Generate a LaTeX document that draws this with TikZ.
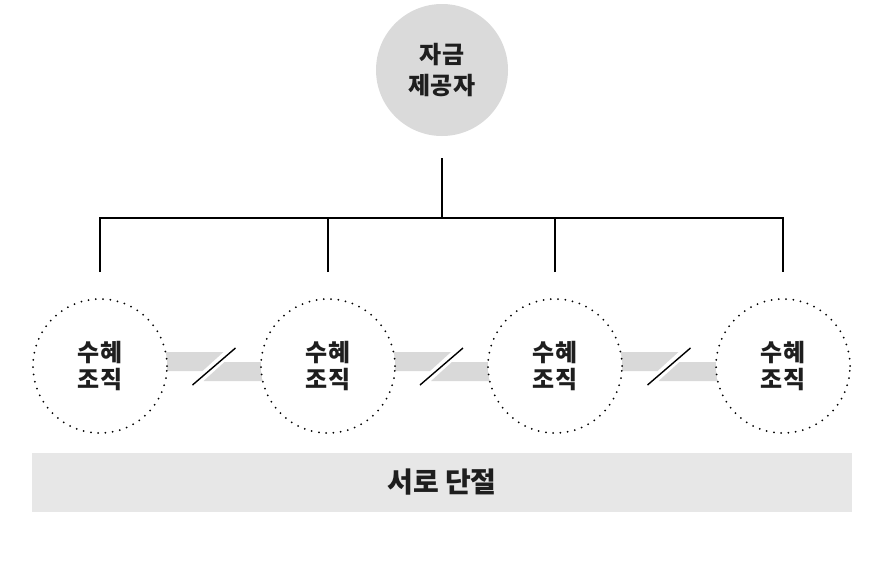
\documentclass[tikz,border=0pt]{standalone}
\usepackage{fontspec}
\setmainfont{Noto Sans CJK KR}
\definecolor{bandgray}{HTML}{D9D9D9}
\definecolor{topgray}{HTML}{DADADA}
\definecolor{bargray}{HTML}{E7E7E7}
\definecolor{ink}{HTML}{1E1E1E}
\begin{document}
\begin{tikzpicture}[x=1pt,y=-1pt,
  funder/.style={circle,fill=topgray,minimum size=132pt,inner sep=0pt,align=center,
    font=\fontsize{24}{31}\selectfont\bfseries,text=ink},
  org/.style={circle,fill=white,draw=black,line width=2pt,
    dash pattern=on 0pt off 7.3pt,line cap=round,minimum size=134pt,inner sep=0pt,
    align=center,font=\fontsize{24}{27}\selectfont\bfseries,text=ink},
  tree/.style={line width=1.3pt,draw=black},
  piece/.style={fill=bandgray},
  slash/.style={line width=1.4pt,draw=black},
  bar/.style={fill=bargray,minimum width=820pt,minimum height=59pt,inner sep=0pt,
    font=\fontsize{28}{32}\selectfont\bfseries,text=ink}]
\useasboundingbox (0,0) rectangle (878,563);

% gray bands with breaks
\foreach \l/\r in {100/328,328/555,555/783}{
  \pgfmathsetmacro{\m}{(\l+\r)/2}
  \fill[piece] (\l,352) -- (\m+9.5,352) -- (\m-11.5,371) -- (\l,371) -- cycle;
  \fill[piece] (\m+10.5,362) -- (\r,362) -- (\r,381) -- (\m-10.5,381) -- cycle;
}

\node[funder] (fund) at (442,70) {자금\\제공자};

\node[org] (o1) at (100,366) {수혜\\조직};
\node[org] (o2) at (328,366) {수혜\\조직};
\node[org] (o3) at (555,366) {수혜\\조직};
\node[org] (o4) at (783,366) {수혜\\조직};

\foreach \m in {214,441.5,669}{
  \draw[slash] (\m-21.5,385) -- (\m+21.5,348);
}

\coordinate (stem) at (442,158);
\coordinate (hub) at (442,218);
\coordinate (d1) at (100,272);
\coordinate (d2) at (328,272);
\coordinate (d3) at (555,272);
\coordinate (d4) at (783,272);
\draw[tree] (stem) -- (hub);
\draw[tree] (d1) |- (hub) -| (d4);
\draw[tree] (d2) -- (d2 |- hub);
\draw[tree] (d3) -- (d3 |- hub);

\node[bar] (gap) at (442,482.5) {서로 단절};
\end{tikzpicture}
\end{document}
